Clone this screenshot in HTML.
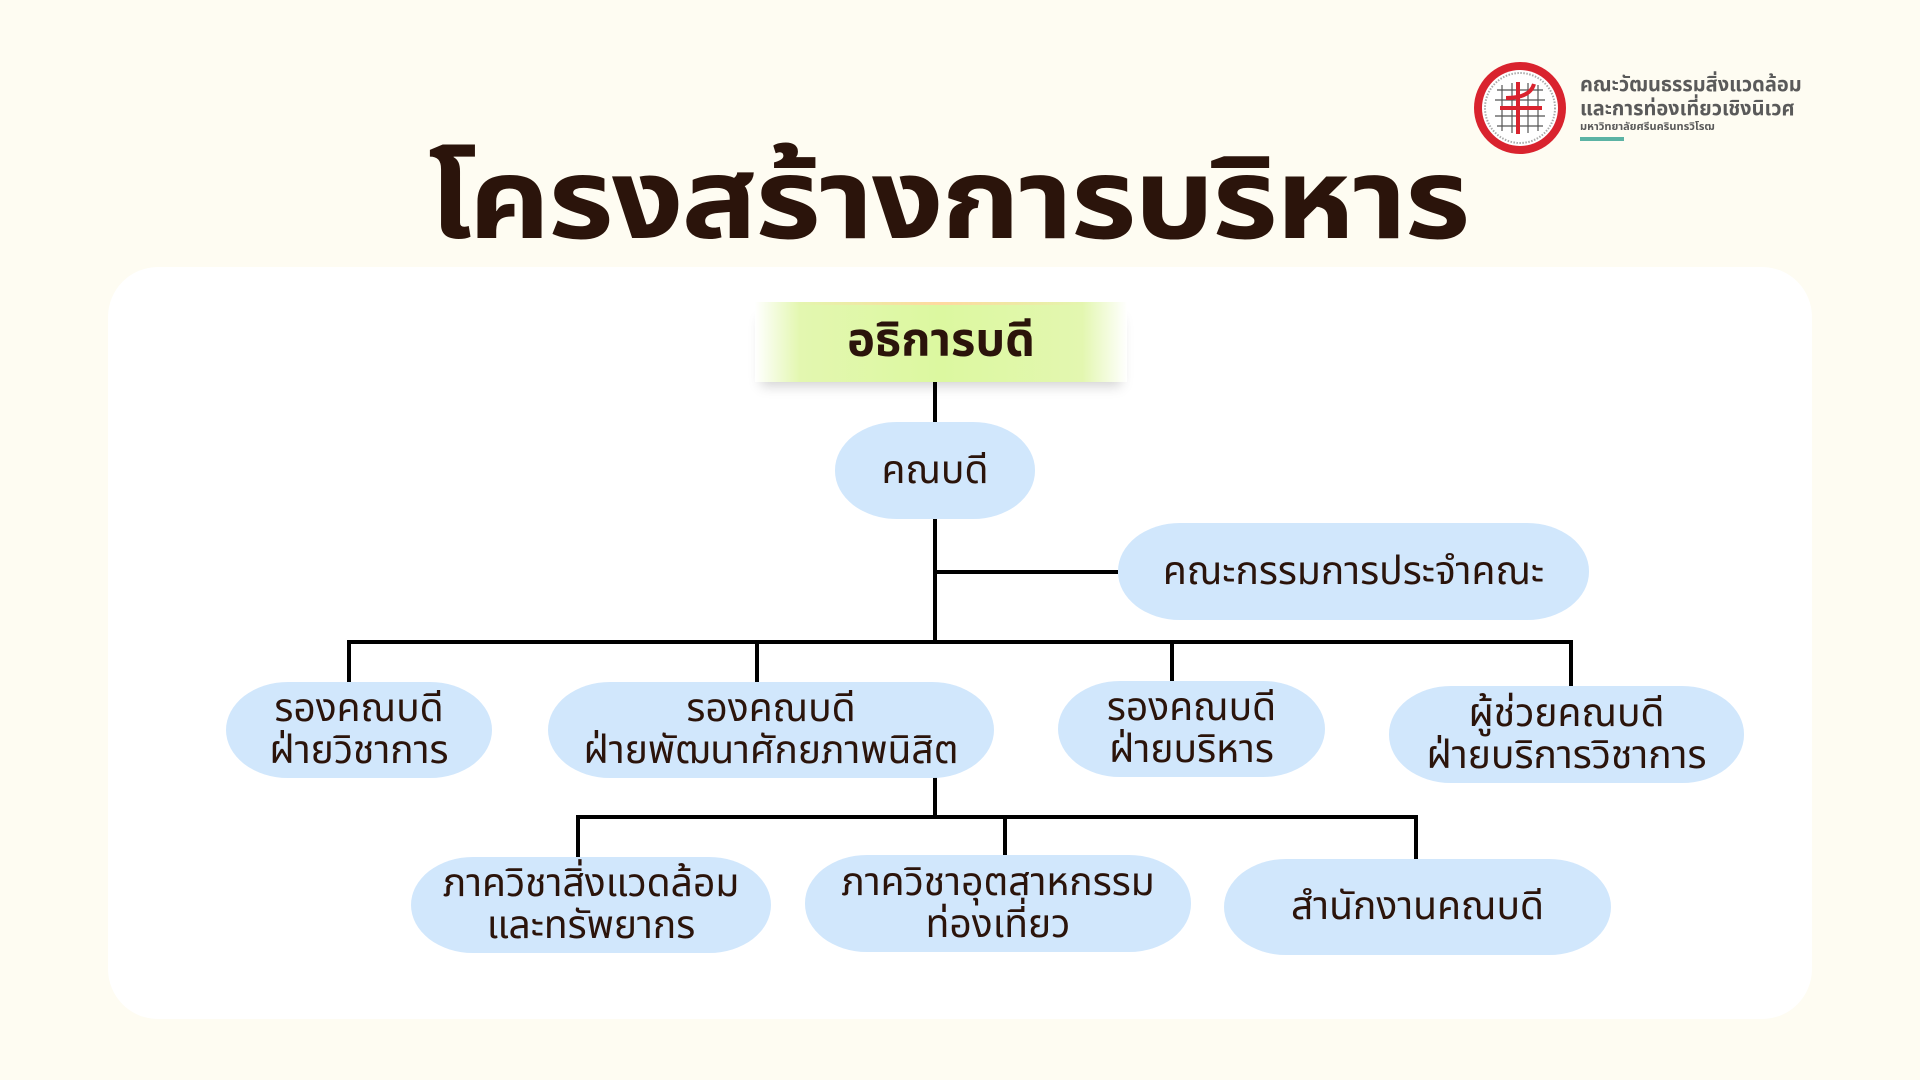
<!DOCTYPE html>
<html><head><meta charset="utf-8">
<style>
*{margin:0;padding:0;box-sizing:border-box}
body{width:1920px;height:1080px;background:#fefcf2;position:relative;overflow:hidden;font-family:"Liberation Sans","Noto Sans Thai","Noto Sans CJK SC",sans-serif;color:#2b140b}
.panel{position:absolute;left:108px;top:267px;width:1704px;height:752px;background:#fff;border-radius:50px}
.title{position:absolute;left:-12px;width:1920px;top:130px;text-align:center;font-size:112px;font-weight:bold;line-height:140px;color:#2b140b;letter-spacing:-2px;transform:scaleX(1.13)}
.box{position:absolute;background:#d1e7fc;border-radius:62px/48px;display:flex;align-items:center;justify-content:center;text-align:center;font-size:39px;line-height:42px}
.l{position:absolute;background:#000}
.band{position:absolute;left:755px;top:302px;width:372px;height:80px;display:flex;align-items:center;justify-content:center;font-size:47px;font-weight:bold;
background:linear-gradient(90deg,rgba(230,245,200,0) 0%,#e3f7b0 12%,#dcf8a0 50%,#e3f7b0 88%,rgba(230,245,200,0) 100%);box-shadow:0 10px 12px -6px rgba(0,0,0,.18)}
.band:before{content:"";position:absolute;left:10%;right:10%;top:0;height:3px;background:linear-gradient(90deg,transparent,#ffd9a0,transparent)}
.logo{position:absolute;left:1580px;font-weight:bold;color:#5a5a5a;white-space:nowrap}
</style></head><body>
<div class="title">โครงสร้างการบริหาร</div>
<svg style="position:absolute;left:1470px;top:58px" width="100" height="100" viewBox="0 0 100 100">
<circle cx="50" cy="50" r="46" fill="#d9232e"/>
<circle cx="50" cy="50" r="38" fill="#fff"/>
<circle cx="50" cy="50" r="35" fill="none" stroke="#aaa" stroke-width="2" stroke-dasharray="1.5 1.5"/>
<g stroke="#555" stroke-width="1.2">
<line x1="27" y1="32" x2="73" y2="32"/><line x1="25" y1="42" x2="75" y2="42"/><line x1="25" y1="58" x2="75" y2="58"/><line x1="27" y1="68" x2="73" y2="68"/>
<line x1="32" y1="27" x2="32" y2="73"/><line x1="42" y1="25" x2="42" y2="75"/><line x1="58" y1="25" x2="58" y2="75"/><line x1="68" y1="27" x2="68" y2="73"/></g>
<g stroke="#d9232e" stroke-width="4" fill="none"><line x1="30" y1="50" x2="72" y2="50"/><line x1="48" y1="24" x2="48" y2="76"/><path d="M36 40 Q60 40 64 26"/></g>
</svg>
<div class="logo" style="top:70px;font-size:20px">คณะวัฒนธรรมสิ่งแวดล้อม</div>
<div class="logo" style="top:94px;font-size:20px">และการท่องเที่ยวเชิงนิเวศ</div>
<div class="logo" style="top:118px;font-size:11px">มหาวิทยาลัยศรีนครินทรวิโรฒ</div>
<div style="position:absolute;left:1580px;top:137px;width:44px;height:4px;background:#5bb3a4"></div>

<div class="panel"></div>
<div class="l" style="left:933px;top:382px;width:4px;height:262px"></div>
<div class="l" style="left:935px;top:570px;width:183px;height:4px"></div>
<div class="l" style="left:347px;top:640px;width:1226px;height:4px"></div>
<div class="l" style="left:347px;top:640px;width:4px;height:42px"></div>
<div class="l" style="left:755px;top:640px;width:4px;height:42px"></div>
<div class="l" style="left:1170px;top:640px;width:4px;height:42px"></div>
<div class="l" style="left:1569px;top:640px;width:4px;height:46px"></div>
<div class="l" style="left:933px;top:777px;width:4px;height:42px"></div>
<div class="l" style="left:576px;top:815px;width:842px;height:4px"></div>
<div class="l" style="left:576px;top:815px;width:4px;height:42px"></div>
<div class="l" style="left:1003px;top:815px;width:4px;height:40px"></div>
<div class="l" style="left:1414px;top:815px;width:4px;height:44px"></div>

<div class="band">อธิการบดี</div>
<div class="box" style="left:835px;top:422px;width:200px;height:97px">คณบดี</div>
<div class="box" style="left:1118px;top:523px;width:471px;height:97px">คณะกรรมการประจำคณะ</div>
<div class="box" style="left:226px;top:682px;width:266px;height:96px">รองคณบดี<br>ฝ่ายวิชาการ</div>
<div class="box" style="left:548px;top:682px;width:446px;height:96px">รองคณบดี<br>ฝ่ายพัฒนาศักยภาพนิสิต</div>
<div class="box" style="left:1058px;top:681px;width:267px;height:96px">รองคณบดี<br>ฝ่ายบริหาร</div>
<div class="box" style="left:1389px;top:686px;width:355px;height:97px">ผู้ช่วยคณบดี<br>ฝ่ายบริการวิชาการ</div>
<div class="box" style="left:411px;top:857px;width:360px;height:96px">ภาควิชาสิ่งแวดล้อม<br>และทรัพยากร</div>
<div class="box" style="left:805px;top:855px;width:386px;height:97px">ภาควิชาอุตสาหกรรม<br>ท่องเที่ยว</div>
<div class="box" style="left:1224px;top:859px;width:387px;height:96px">สำนักงานคณบดี</div>
</body></html>
